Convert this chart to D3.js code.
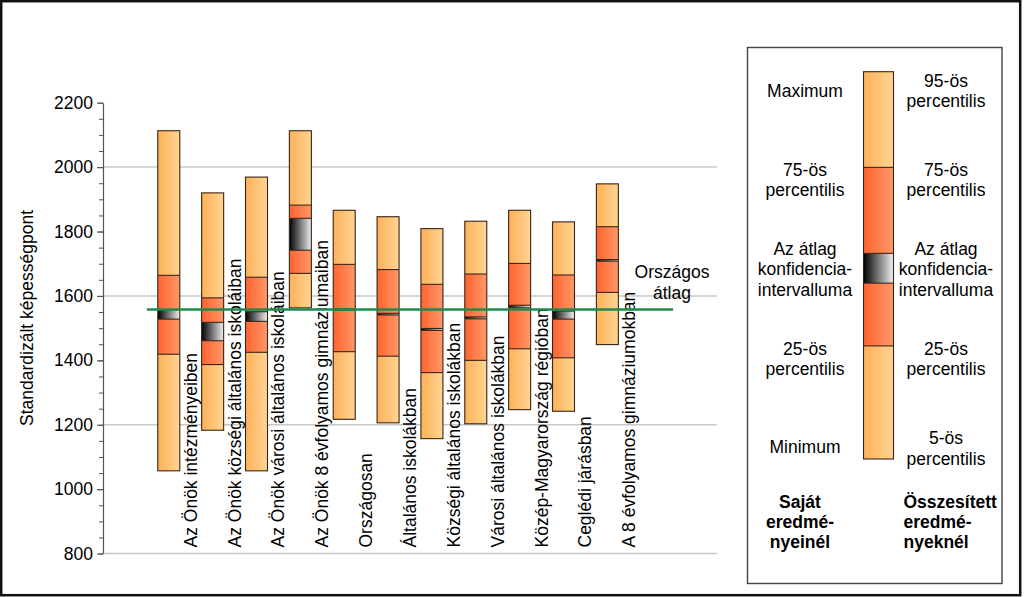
<!DOCTYPE html>
<html><head><meta charset="utf-8">
<script src="https://cdn.jsdelivr.net/npm/d3@7"></script>
<style>
html,body{margin:0;padding:0;background:#fff;}
svg{display:block;font-family:"Liberation Sans",Arial,sans-serif;}
</style></head>
<body>
<svg id="chart" width="1024" height="597"></svg>
<script>
// ---------- DATA ----------
const categories = [
  "Az Önök intézményeiben",
  "Az Önök községi általános iskoláiban",
  "Az Önök városi általános iskoláiban",
  "Az Önök 8 évfolyamos gimnáziumaiban",
  "Országosan",
  "Általános iskolákban",
  "Községi általános iskolákban",
  "Városi általános iskolákban",
  "Közép-Magyarország régióban",
  "Ceglédi járásban",
  "A 8 évfolyamos gimnáziumokban"
];
const minVals    = [1057, 1183, 1057, 1563, 1217, 1206, 1157, 1203, 1247, 1242, 1449];
const p25Vals    = [1419, 1387, 1425, 1670, 1427, 1413, 1362, 1400, 1436, 1408, 1611];
const ciLowVals  = [1528, 1461, 1521, 1742, 1556, 1541, 1493, 1529, 1563, 1528, 1708];
const ciHighVals = [1557, 1518, 1551, 1841, 1560, 1546, 1499, 1535, 1571, 1553, 1713];
const p75Vals    = [1664, 1594, 1658, 1882, 1698, 1682, 1636, 1668, 1701, 1665, 1815];
const maxVals    = [2113, 1920, 1969, 2113, 1866, 1846, 1809, 1832, 1866, 1830, 1948];
const nationalAverage = 1558;
const yTickValues = [800, 1000, 1200, 1400, 1600, 1800, 2000, 2200];
const gridValues  = [800, 1200, 1600, 2000];
const yTitle = "Standardizált képességpont";
const avgLabel = ["Országos", "átlag"];
// legend schematic (percent of legend bar)
const legendSample = [0, 29.2, 45.4, 53.1, 75.3, 100];
const legendLeft  = ["Maximum", "75-ös|percentilis", "Az átlag|konfidencia-|intervalluma", "25-ös|percentilis", "Minimum"];
const legendRight = ["95-ös|percentilis", "75-ös|percentilis", "Az átlag|konfidencia-|intervalluma", "25-ös|percentilis", "5-ös|percentilis"];
const legendFootLeft  = ["Saját", "eredmé-", "nyeinél"];
const legendFootRight = ["Összesített", "eredmé-", "nyeknél"];

// ---------- DRAW ----------
const svg = d3.select("#chart");
const FS = 17.5;

const defs = svg.append("defs");
function grad(id, c1, c2) {
  const g = defs.append("linearGradient").attr("id", id)
    .attr("x1", "0%").attr("x2", "100%").attr("y1", "0%").attr("y2", "0%");
  g.append("stop").attr("offset", "0%").attr("stop-color", c1);
  g.append("stop").attr("offset", "100%").attr("stop-color", c2);
}
grad("gLight", "#FDB158", "#FFD494");
grad("gRed", "#FF6330", "#FF9868");
grad("gCI", "#000000", "#F0F0F0");

// outer frame
svg.append("rect").attr("x", 1.2).attr("y", 1.2).attr("width", 1019).attr("height", 594)
  .attr("fill", "none").attr("stroke", "#111").attr("stroke-width", 2.5);

const y = d3.scaleLinear().domain([800, 2200]).range([553.6, 102.7]);
const slots = d3.range(categories.length + 3);
const x = d3.scaleBand().domain(slots).range([103, 717]).padding(0);
const barW = 22;

// gridlines
svg.append("g").selectAll("line").data(gridValues).join("line")
  .attr("x1", 103).attr("x2", 717)
  .attr("y1", d => y(d)).attr("y2", d => y(d))
  .attr("stroke", "#c8c8c8").attr("stroke-width", 1.5);

// y axis
const minorTicks = d3.range(800, 2201, 50);
const axisG = svg.append("g").attr("transform", "translate(103,0)");
axisG.call(d3.axisLeft(y).tickValues(minorTicks).tickSize(4).tickFormat(""));
axisG.selectAll("path,line").attr("stroke", "#555");
axisG.select(".domain").remove();
const axisMajor = svg.append("g").attr("transform", "translate(103,0)");
axisMajor.call(d3.axisLeft(y).tickValues(yTickValues).tickSize(6).tickSizeOuter(0).tickPadding(4).tickFormat(d3.format("d")));
axisMajor.selectAll("path,line").attr("stroke", "#555").attr("stroke-width", 1.2);
axisMajor.selectAll("text").attr("font-size", FS).attr("fill", "#000")
  .attr("font-family", "'Liberation Sans', Arial, sans-serif");

// y title
svg.append("text").attr("transform", "translate(33,318) rotate(-90)")
  .attr("text-anchor", "middle").attr("font-size", FS).text(yTitle);

// bars
const rows = categories.map((c, i) => ({
  c, slot: i + 1,
  segs: [
    [minVals[i], p25Vals[i], "url(#gLight)"],
    [p25Vals[i], ciLowVals[i], "url(#gRed)"],
    [ciLowVals[i], ciHighVals[i], "url(#gCI)"],
    [ciHighVals[i], p75Vals[i], "url(#gRed)"],
    [p75Vals[i], maxVals[i], "url(#gLight)"]
  ]
}));
const barG = svg.append("g");
rows.forEach(r => {
  const cx = x(r.slot) + x.bandwidth() / 2;
  const g = barG.append("g");
  g.selectAll("rect.s").data(r.segs).join("rect").attr("class", "s")
    .attr("x", cx - barW / 2).attr("width", barW)
    .attr("y", d => y(d[1])).attr("height", d => Math.max(0.8, y(d[0]) - y(d[1])))
    .attr("fill", d => d[2]);
  // internal boundaries
  g.selectAll("line.b").data([p25Vals, ciLowVals, ciHighVals, p75Vals].map(a => a[r.slot - 1])).join("line")
    .attr("class", "b")
    .attr("x1", cx - barW / 2).attr("x2", cx + barW / 2)
    .attr("y1", d => y(d)).attr("y2", d => y(d))
    .attr("stroke", "#3a2414").attr("stroke-width", 1.1);
  g.append("rect").attr("x", cx - barW / 2).attr("width", barW)
    .attr("y", y(maxVals[r.slot - 1])).attr("height", y(minVals[r.slot - 1]) - y(maxVals[r.slot - 1]))
    .attr("fill", "none").attr("stroke", "#3a2414").attr("stroke-width", 1.1);
});

// category labels
svg.append("g").selectAll("text").data(rows).join("text")
  .attr("transform", d => `translate(${x(d.slot) + x.bandwidth() + 6},547.5) rotate(-90)`)
  .attr("text-anchor", "start").attr("font-size", FS).text(d => d.c);

// national average line
svg.append("line")
  .attr("x1", x(1)).attr("x2", x(categories.length + 2))
  .attr("y1", y(nationalAverage)).attr("y2", y(nationalAverage))
  .attr("stroke", "#1e8a4e").attr("stroke-width", 2.5);
svg.append("g").selectAll("text").data(avgLabel).join("text")
  .attr("x", 672).attr("y", (d, i) => 278 + i * 21)
  .attr("text-anchor", "middle").attr("font-size", FS).text(d => d);

// legend box
svg.append("rect").attr("x", 747.5).attr("y", 47.5).attr("width", 254.5).attr("height", 536)
  .attr("fill", "#fff").attr("stroke", "#444").attr("stroke-width", 1.4);
const ly = d3.scaleLinear().domain([0, 100]).range([459, 71.7]);
const lx0 = 863.5, lw = 30;
const lsegs = [
  [legendSample[0], legendSample[1], "url(#gLight)"],
  [legendSample[1], legendSample[2], "url(#gRed)"],
  [legendSample[2], legendSample[3], "url(#gCI)"],
  [legendSample[3], legendSample[4], "url(#gRed)"],
  [legendSample[4], legendSample[5], "url(#gLight)"]
];
const lg = svg.append("g");
lg.selectAll("rect.s").data(lsegs).join("rect").attr("class", "s")
  .attr("x", lx0).attr("width", lw)
  .attr("y", d => ly(d[1])).attr("height", d => ly(d[0]) - ly(d[1]))
  .attr("fill", d => d[2]);
lg.selectAll("line").data(legendSample.slice(1, 5)).join("line")
  .attr("x1", lx0).attr("x2", lx0 + lw).attr("y1", d => ly(d)).attr("y2", d => ly(d))
  .attr("stroke", "#3a2414").attr("stroke-width", 1.1);
lg.append("rect").attr("x", lx0).attr("width", lw).attr("y", ly(100)).attr("height", ly(0) - ly(100))
  .attr("fill", "none").attr("stroke", "#3a2414").attr("stroke-width", 1.1);

// legend texts (layout)
const leftFirstBaselines  = [97.3, 176, 255, 355, 453.3];
const rightFirstBaselines = [86.7, 176, 255, 355, 444.3];
const lineGap = 20.3;
function legendCol(items, cx, baselines) {
  items.forEach((it, k) => {
    const lines = it.split("|");
    lines.forEach((t, j) => {
      svg.append("text").attr("x", cx).attr("y", baselines[k] + j * lineGap)
        .attr("text-anchor", "middle").attr("font-size", FS).text(t);
    });
  });
}
legendCol(legendLeft, 805, leftFirstBaselines);
legendCol(legendRight, 946, rightFirstBaselines);
legendFootLeft.forEach((t, j) => {
  svg.append("text").attr("x", 800).attr("y", 508.3 + j * 20)
    .attr("text-anchor", "middle").attr("font-size", FS).attr("font-weight", "bold").text(t);
});
legendFootRight.forEach((t, j) => {
  svg.append("text").attr("x", 903.5).attr("y", 508.3 + j * 20)
    .attr("text-anchor", "start").attr("font-size", FS).attr("font-weight", "bold").text(t);
});
</script>
</body></html>
